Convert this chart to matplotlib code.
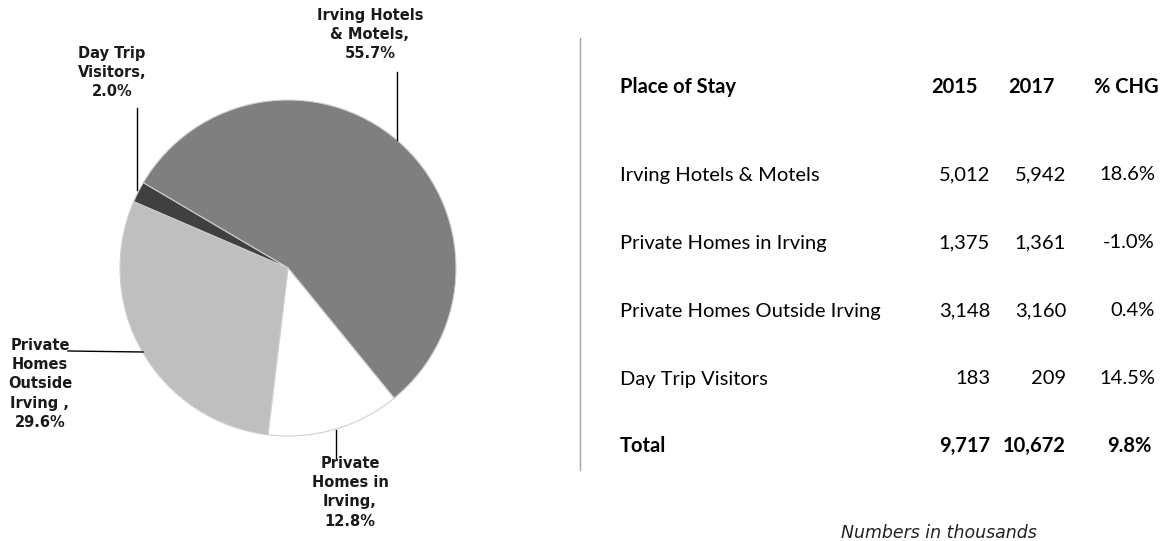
import matplotlib
matplotlib.use("Agg")
import matplotlib.pyplot as plt

# ---- data ----
pie_labels = ["Irving Hotels\n& Motels,\n55.7%", "Private\nHomes in\nIrving,\n12.8%",
              "Private\nHomes\nOutside\nIrving ,\n29.6%", "Day Trip\nVisitors,\n2.0%"]
pie_values = [55.7, 12.8, 29.6, 2.0]
pie_colors = ["#7f7f7f", "#ffffff", "#bfbfbf", "#404040"]

table_header = ["Place of Stay", "2015", "2017", "% CHG"]
places = ["Irving Hotels & Motels", "Private Homes in Irving",
          "Private Homes Outside Irving", "Day Trip Visitors"]
v2015 = ["5,012", "1,375", "3,148", "183"]
v2017 = ["5,942", "1,361", "3,160", "209"]
pchg = ["18.6%", "-1.0%", "0.4%", "14.5%"]
total = ["Total", "9,717", "10,672", "9.8%"]
note = "Numbers in thousands"

W, H = 1166, 541
fig = plt.figure(figsize=(W / 100, H / 100), dpi=100)
fig.patch.set_facecolor("white")

# pie axes
cx, cy, R = 288, 268, 168
pad = 2
axp = fig.add_axes([(cx - R - pad) / W, (H - cy - R - pad) / H, (2 * (R + pad)) / W, (2 * (R + pad)) / H])
axp.pie(pie_values, colors=pie_colors, startangle=149.5, counterclock=False,
        wedgeprops=dict(edgecolor="#d0d0d0", linewidth=0.8))
lim = (R + pad) / R
axp.set_xlim(-lim, lim)
axp.set_ylim(-lim, lim)
axp.set_aspect("equal")
axp.axis("off")

# overlay axes in pixel coords
ax = fig.add_axes([0, 0, 1, 1])
ax.set_xlim(0, W)
ax.set_ylim(H, 0)
ax.axis("off")
ax.patch.set_alpha(0)

lab_font = dict(family="DejaVu Sans", fontweight="bold", fontsize=10.5, color="#1a1a1a",
                ha="center", va="top", linespacing=1.35)
ax.text(370, 8, pie_labels[0], **lab_font)
ax.text(350, 456, pie_labels[1], **lab_font)
ax.text(40, 338, pie_labels[2], **lab_font)
ax.text(112, 46, pie_labels[3], **lab_font)

lc = dict(color="black", linewidth=1)
ax.plot([397, 397], [72, 140], **lc)
ax.plot([336, 336], [430, 458], **lc)
ax.plot([68, 143], [351, 352], **lc)
ax.plot([137, 137], [108, 190], **lc)

# divider
ax.plot([580, 580], [38, 470], color="#a6a6a6", linewidth=1)

# table
tf = dict(family="Lato", fontsize=14.5, color="black", va="center")
xl, x15, x17, xc = 620, 990, 1066, 1155
ax.text(xl, 87, table_header[0], fontweight="bold", ha="left", **tf)
ax.text(955, 87, table_header[1], fontweight="bold", ha="center", **tf)
ax.text(1031, 87, table_header[2], fontweight="bold", ha="center", **tf)
ax.text(1159, 87, table_header[3], fontweight="bold", ha="right", **tf)

rows_y = [175, 243, 311, 379]
for y, p, a, b, c in zip(rows_y, places, v2015, v2017, pchg):
    ax.text(xl, y, p, ha="left", **tf)
    ax.text(x15, y, a, ha="right", **tf)
    ax.text(x17, y, b, ha="right", **tf)
    ax.text(xc, y, c, ha="right", **tf)

ty = 446
ax.text(xl, ty, total[0], ha="left", fontweight="bold", **tf)
ax.text(x15, ty, total[1], ha="right", fontweight="bold", **tf)
ax.text(x17, ty, total[2], ha="right", fontweight="bold", **tf)
ax.text(xc - 4, ty, total[3], ha="right", fontweight="bold", **tf)

ax.text(939, 533, note, family="DejaVu Sans", style="italic", fontsize=12.5,
        color="#222222", ha="center", va="center")

fig.savefig("out.png", dpi=100, facecolor="white")
